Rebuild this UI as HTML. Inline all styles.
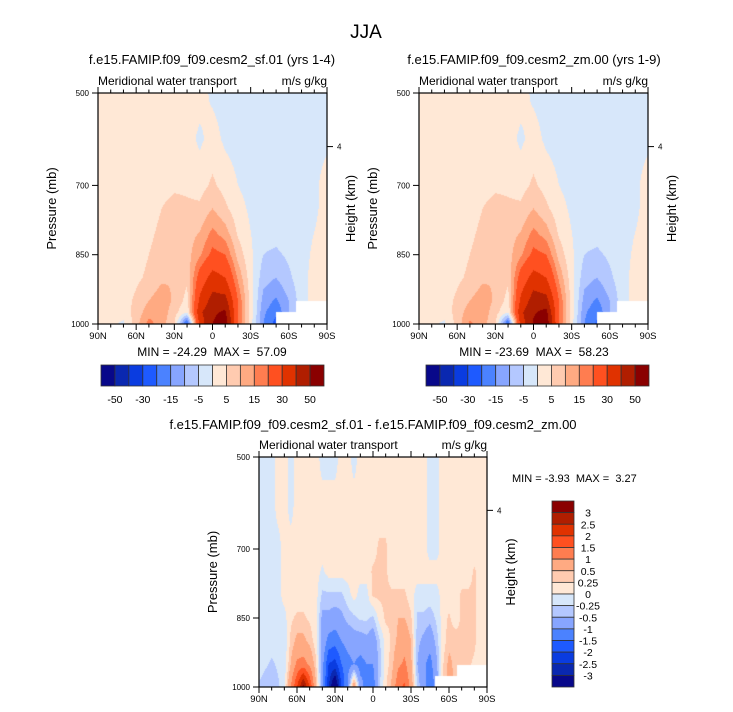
<!DOCTYPE html>
<html><head><meta charset="utf-8">
<style>
body{margin:0;background:#fff;width:733px;height:712px;overflow:hidden;position:relative;font-family:"Liberation Sans",sans-serif}
canvas{position:absolute}
svg{position:absolute;left:0;top:0}
text{font-family:"Liberation Sans",sans-serif;fill:#000;white-space:pre}
</style></head>
<body>
<canvas id="c1" width="229" height="231" style="left:98px;top:93px"></canvas>
<canvas id="c2" width="229" height="231" style="left:419px;top:93px"></canvas>
<canvas id="c3" width="228" height="230" style="left:259px;top:457px"></canvas>
<svg id="s" width="733" height="712">
<text x="366" y="38" font-size="19" text-anchor="middle">JJA</text>
</svg>
<script>
// ---- data ----
const lats10 = [90,80,70,60,50,40,30,20,10,0,-10,-20,-30,-40,-50,-60,-70,-80,-90];
const presTop = [500,600,700,750,800,850,900,950,975,1000];
const presDiff = [500,600,700,750,800,850,900,950,1000];
const fieldSf01 = [
[2,2,2,2,2,2,2,2,2,-1,-2,-2,-2,-2,-2,-2,-2,-2,-2],
[2,2,2,2,2,2,2,2,-1,2,-1,-2,-2,-2,-2,-2,-2,-2,-1],
[2,2,2,2,2,3,4,4,3,6,3,0,-2,-2,-2,-2,-2,-1,2],
[2,2,2,2,3,5,7,6,6,10,6,2,-1,-2,-2,-2,-2,-1,2],
[2,2,2,3,4,6,8,8,10,16,12,4,0,-3,-3,-2,-2,0,2],
[2,2,2,3,5,7,9,8,14,22,20,8,1,-5,-6,-4,-2,1,1],
[2,2,2,4,6,9,10,6,24,34,30,14,2,-8,-10,-6,-2,2,1],
[2,2,3,6,10,13,9,3,32,44,44,20,3,-12,-16,-10,-2,2,1],
[2,2,2,7,13,13,7,0,38,48,52,20,3,-14,-19,-10,-2,2,1],
[1,1,-1,8,17,12,6,-24,34,50,57,20,2,-15,-22,-10,-2,2,1]];
const fieldZm00 = [
[2,2,2,2,2,2,2,2,2,-1,-2,-2,-2,-2,-2,-2,-2,-2,-2],
[2,2,2,2,2,2,2,2,-1,2,-1,-2,-2,-2,-2,-2,-2,-2,-1],
[2,2,2,2,2,3,4,4,3,6,3,0,-2,-2,-2,-2,-2,-1,2],
[2,2,2,2,3,5,7,6,6,10,6,2,-1,-2,-2,-2,-2,-1,2],
[2,2,2,3,4,6,8,8,10,16,12,4,0,-3,-3,-2,-2,0,2],
[2,2,2,3,5,7,9,8,14,22,20,8,1,-5,-6,-4,-2,1,1],
[2,2,2,4,6,9,10,6,24,34,30,14,2,-8,-10,-6,-2,2,1],
[2,2,3,6,10,13,9,3,32,45,44,20,3,-12,-16,-10,-2,2,1],
[2,2,2,7,13,13,7,0,38,49,53,20,3,-14,-19,-10,-2,2,1],
[1,1,-1,7,16,12,6,-23,34,51,58,20,2,-15,-21,-10,-2,2,1]];
const lats5 = [90,85,80,75,70,65,60,55,50,45,40,35,30,25,20,15,10,5,0,-5,-10,-15,-20,-25,-30,-35,-40,-45,-50,-55,-60,-65,-70,-75,-80,-85,-90];
const fieldDiff = [
[-.1,-.1,-.1,.1,.1,-.1,.1,.1,.1,.1,-.1,-.1,-.1,.1,.1,-.1,.1,.1,.1,.1,.1,.1,.1,.1,.1,.1,.1,-.1,-.1,.1,.1,.1,.1,.1,.1,.1,.1],
[-.1,-.1,-.1,.1,.1,-.1,.1,.1,.1,.1,.1,.1,.1,.1,.1,.1,.1,.1,.1,.1,.1,.1,.1,.1,.1,.1,.1,-.1,-.1,.1,.1,.1,.1,.1,.1,.1,.1],
[-.1,-.1,-.1,-.1,.1,.1,.1,.1,.1,.1,.1,.1,.1,.1,.1,.1,.1,.1,.15,.3,.3,.1,.1,.1,.1,.1,.1,-.1,-.1,.1,.1,.1,.1,.1,.1,.1,.1],
[-.1,-.1,-.1,-.1,.1,.1,.1,.1,.1,.1,-.05,.1,.1,.1,.1,.1,.1,.1,.3,.3,.3,.1,.1,.1,.1,.1,.1,.1,.1,.1,.1,.1,.1,.1,.3,.1,.1],
[-.1,-.1,-.1,-.1,.1,.1,.1,.1,.1,.1,-.3,-.3,-.3,-.3,-.1,.1,-.1,-.1,.3,.3,.3,.3,.3,.3,.1,-.1,-.1,-.1,-.1,.1,.1,.1,.3,.3,.3,.1,.1],
[-.1,-.1,-.1,-.1,-.1,.2,.3,.3,.2,.1,-.6,-.6,-.7,-.6,-.4,-.3,-.2,-.2,-.3,.1,.3,.3,.5,.5,.3,-.3,-.3,-.4,-.2,.1,.3,.1,.3,.4,.3,.1,.1],
[-.1,-.1,-.1,-.1,-.2,.3,.6,.6,.4,.1,-.6,-1.2,-1.3,-1,-.8,-.7,-.7,-.6,-.8,-.3,.1,.3,.6,.8,.5,-.4,-.6,-.8,-.4,.1,.4,.4,.3,.4,.3,.1,.1],
[-.1,-.2,-.3,-.2,-.2,.5,1.1,1.2,.9,.3,-.8,-2,-2.2,-1.5,-1.2,-1,-1.2,-1,-1,-.4,.1,.4,.9,1.1,.6,-.5,-.9,-1.2,-.6,.2,.6,.4,.3,.3,.2,.1,.1],
[-.3,-.4,-.5,-.3,-.1,1,2,3.2,2,.5,-.7,-2.5,-3.9,-2,-1,1,-.8,-1.2,-1.3,-.3,.2,.6,1.4,1.6,.8,-.3,-.8,-1.4,-.8,.2,.6,.5,.3,.3,.2,.1,.1]];
const levelsTop = [-50,-40,-30,-20,-15,-10,-5,0,5,10,15,20,30,40,50];
const levelsDiff = [-3,-2.5,-2,-1.5,-1,-0.5,-0.25,0,0.25,0.5,1,1.5,2,2.5,3];
const xTickLabels = ['90N','60N','30N','0','30S','60S','90S'];
const xTickLats = [90,60,30,0,-30,-60,-90];
const yTickPres = [500,700,850,1000];
const missingTop = [[-50,975],[-66,950]];
const missingDiff = [[-49,976],[-66,952]];
const colors = ['#08088a','#0a28b0','#0a3ce0','#1e5aff','#4b82ff','#87a5ff','#b4c8ff','#d7e7fa','#ffe8d6','#ffcbb0','#ffaa82','#ff7d50','#ff5020','#e03200','#b01e00','#8a0000'];

function hex(c){return [parseInt(c.substr(1,2),16),parseInt(c.substr(3,2),16),parseInt(c.substr(5,2),16)];}
function interp1(arr,v){
  for(let i=0;i<arr.length-1;i++){const a=arr[i],b=arr[i+1];
    if((v-a)*(v-b)<=0){return [i,(v-a)/(b-a)];}}
  return [arr.length-2,1];
}
function drawField(id,lats,pres,field,levels,missing){
  const cv=document.getElementById(id),ctx=cv.getContext('2d'),W=cv.width,H=cv.height;
  const img=ctx.createImageData(W,H);const rgb=colors.map(hex);
  for(let py=0;py<H;py++){const p=500+(py+0.5)/H*500;const [j,fj]=interp1(pres,p);
    for(let px=0;px<W;px++){const lat=90-(px+0.5)/W*180;const [i,fi]=interp1(lats,lat);
      const v=(field[j][i]*(1-fi)+field[j][i+1]*fi)*(1-fj)+(field[j+1][i]*(1-fi)+field[j+1][i+1]*fi)*fj;
      let k=0;while(k<levels.length&&v>=levels[k])k++;
      let c=rgb[k];
      for(const m of missing){if(lat<m[0]&&p>m[1])c=[255,255,255];}
      const o=(py*W+px)*4;img.data[o]=c[0];img.data[o+1]=c[1];img.data[o+2]=c[2];img.data[o+3]=255;}}
  ctx.putImageData(img,0,0);
}
drawField('c1',lats10,presTop,fieldSf01,levelsTop,missingTop);
drawField('c2',lats10,presTop,fieldZm00,levelsTop,missingTop);
drawField('c3',lats5,presDiff,fieldDiff,levelsDiff,missingDiff);

const S=document.getElementById('s');const NS='http://www.w3.org/2000/svg';
function el(tag,attrs,txt){const e=document.createElementNS(NS,tag);for(const k in attrs)e.setAttribute(k,attrs[k]);if(txt!==undefined)e.textContent=txt;S.appendChild(e);return e;}

function axes(x0,y0,W,H,name){
  const xs=lat=>x0+(90-lat)/180*W, ys=p=>y0+(p-500)/500*H;
  const f=el('rect',{x:x0,y:y0,width:W,height:H,fill:'none',stroke:'#000','stroke-width':1.2});
  
  
  for(let lat=90;lat>=-90;lat-=10){const major=lat%30===0;const L=major?6:3.5;
    el('line',{x1:xs(lat),x2:xs(lat),y1:y0,y2:y0-L,stroke:'#000'});
    el('line',{x1:xs(lat),x2:xs(lat),y1:y0+H,y2:y0+H+L,stroke:'#000'});}
  xTickLabels.forEach((t,i)=>{const e=el('text',{x:xs(xTickLats[i]),y:y0+H+15,'font-size':9.5,'text-anchor':'middle'},t);
    
    });
  yTickPres.forEach(p=>{el('line',{x1:x0,x2:x0-6,y1:ys(p),y2:ys(p),stroke:'#000'});
    const e=el('text',{x:x0-9,y:ys(p)+3,'font-size':8,'text-anchor':'end'},String(p));
    
    });
  el('line',{x1:x0+W,x2:x0+W+6,y1:ys(616),y2:ys(616),stroke:'#000'});
  el('text',{x:x0+W+10,y:ys(616)+3,'font-size':8},'4');
  const a=el('text',{x:0,y:0,'font-size':13,'text-anchor':'middle',transform:`translate(${x0-42},${y0+H/2}) rotate(-90)`},'Pressure (mb)');
  
  
  const b=el('text',{x:0,y:0,'font-size':13,'text-anchor':'middle',transform:`translate(${x0+W+28},${y0+H/2}) rotate(-90)`},'Height (km)');
  
  
  const l=el('text',{x:x0,y:y0-8,'font-size':12},'Meridional water transport');
  
  
  const r=el('text',{x:x0+W,y:y0-8,'font-size':12,'text-anchor':'end'},'m/s g/kg');
  
  
}
function hbar(x0,y0,W,H){const bw=W/16;
  colors.forEach((c,i)=>{const e=el('rect',{x:x0+i*bw,y:y0,width:bw,height:H,fill:c,stroke:'#333','stroke-width':0.8});
    
    });
  levelsTop.forEach((v,i)=>{if(i%2===0){const e=el('text',{x:x0+(i+1)*bw,y:y0+H+17,'font-size':10.5,'text-anchor':'middle'},String(v));
    
    }});
}
function vbar(x0,y0,W,H){const bh=H/16;
  colors.slice().reverse().forEach((c,i)=>{const e=el('rect',{x:x0,y:y0+i*bh,width:W,height:bh,fill:c,stroke:'#333','stroke-width':0.8});
    
    });
  levelsDiff.slice().reverse().forEach((v,i)=>{const e=el('text',{x:x0+W+14,y:y0+(i+1)*bh+4,'font-size':10.5,'text-anchor':'middle'},String(v));
    
    });
}
axes(98,93,229,231,'panel-sf01');
axes(419,93,229,231,'panel-zm00');
axes(259,457,228,230,'panel-diff');
el('text',{x:212,y:64,'font-size':13,'text-anchor':'middle'},'f.e15.FAMIP.f09_f09.cesm2_sf.01 (yrs 1-4)');
el('text',{x:534,y:64,'font-size':13,'text-anchor':'middle'},'f.e15.FAMIP.f09_f09.cesm2_zm.00 (yrs 1-9)');
el('text',{x:373,y:429,'font-size':13,'text-anchor':'middle'},'f.e15.FAMIP.f09_f09.cesm2_sf.01 - f.e15.FAMIP.f09_f09.cesm2_zm.00');
el('text',{x:212,y:356,'font-size':12,'text-anchor':'middle'},'MIN = -24.29  MAX =  57.09');
el('text',{x:534,y:356,'font-size':12,'text-anchor':'middle'},'MIN = -23.69  MAX =  58.23');
el('text',{x:512,y:482,'font-size':11},'MIN = -3.93  MAX =  3.27');
hbar(101,365,223,21);
hbar(426,365,223,21);
vbar(552,501,22,186);
</script>
</body></html>
